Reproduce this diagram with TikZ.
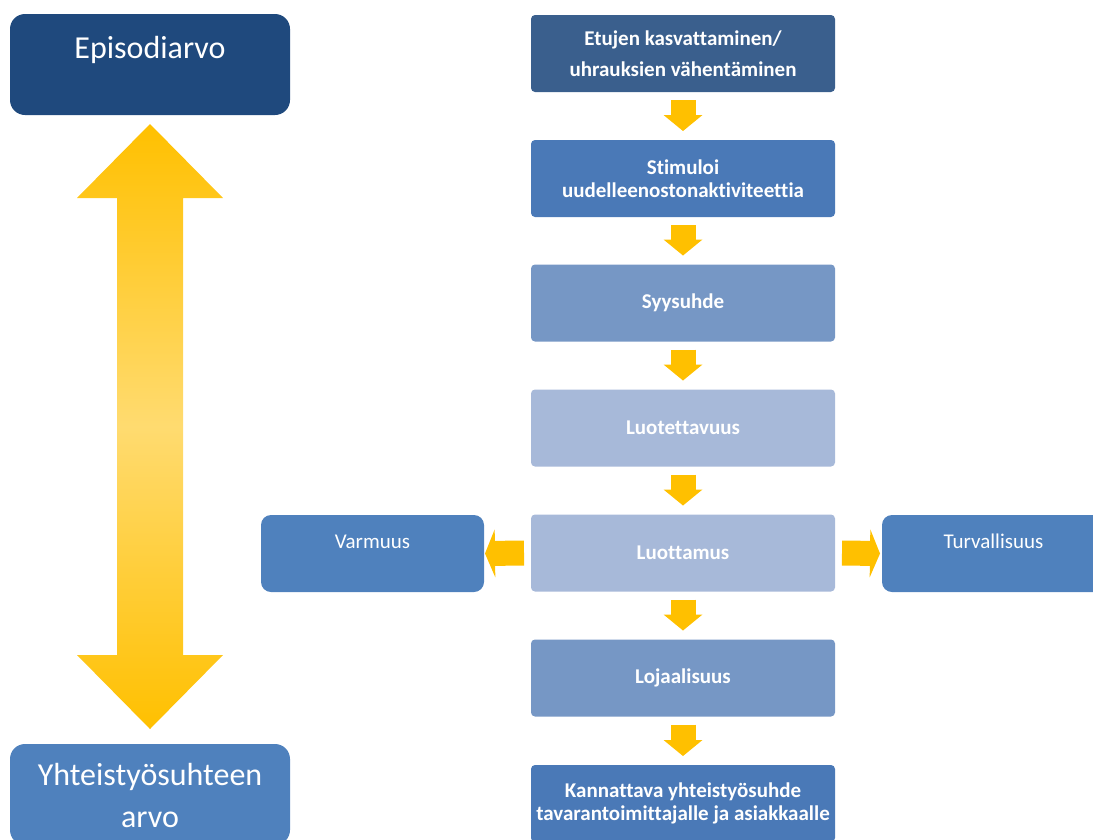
\documentclass[tikz,border=0pt]{standalone}
\usepackage{fontspec}
\setmainfont{Carlito}[Ligatures=NoCommon]
\usetikzlibrary{arrows.meta,calc}

\definecolor{valuedark}{HTML}{1F497D}
\definecolor{valuelight}{HTML}{4F81BD}
\definecolor{stageone}{HTML}{3A5F8D}
\definecolor{stagetwo}{HTML}{4A79B7}
\definecolor{stagethree}{HTML}{7697C5}
\definecolor{stagefour}{HTML}{A7B9D9}
\definecolor{arrowgold}{HTML}{FFC000}
\definecolor{arrowlight}{HTML}{FFDB70}

\tikzset{
    box/.style={rounded corners=4pt, align=center, text=white, inner sep=0pt, outer sep=0pt,
        minimum width=304pt, minimum height=77pt, font=\fontsize{21}{23}\selectfont\bfseries},
    stageA/.style={box, fill=stageone},
    stageB/.style={box, fill=stagetwo},
    stageC/.style={box, fill=stagethree},
    stageD/.style={box, fill=stagefour},
    value/.style={rounded corners=15pt, align=center, text=white, inner sep=0pt, outer sep=0pt,
        minimum width=280pt, text height=44pt, text depth=57pt, font=\fontsize{32}{42}\selectfont},
    aspect/.style={rounded corners=10pt, fill=valuelight, text=white, inner sep=0pt, outer sep=0pt,
        minimum width=223pt, text height=33pt, text depth=44pt, font=\fontsize{21}{25}\selectfont},
    link/.style={draw=arrowgold, line width=25pt, -{Triangle[width=39pt, length=16pt, line width=0pt]}},
    sidelink/.style={link, -{Triangle[width=48pt, length=10pt, line width=0pt]}},
    bothlink/.style={top color=arrowgold, bottom color=arrowgold, middle color=arrowlight}
}

\begin{document}
\begin{tikzpicture}[x=1pt, y=-1pt]
    \path[use as bounding box, clip] (0,0) rectangle (1093,839);
    \node[value, fill=valuedark] (episode) at (150,64.5) {Episodiarvo};
    \node[value, fill=valuelight, text height=83pt, text depth=18pt] (partnership) at (150,794.5)
        {Yhteistyösuhteen\\arvo};
    \node[stageA] (benefits) at (683,53.5) {Etujen kasvattaminen/\\[8pt]uhrauksien vähentäminen};
    \node[stageB] (stimulus) at (683,178.5) {Stimuloi\\uudelleenostonaktiviteettia};
    \node[stageC] (causality) at (683,303) {Syysuhde};
    \node[stageD] (reliability) at (683,428) {Luotettavuus};
    \node[stageD] (trust) at (683,553) {Luottamus};
    \node[stageC] (loyalty) at (683,678) {Lojaalisuus};
    \node[stageB] (profitable) at (683,803.5)
        {Kannattava yhteistyösuhde\\tavarantoimittajalle ja asiakkaalle};
    \node[aspect] (certainty) at (372.5,553.5) {Varmuus};
    \node[aspect] (security) at (993.5,553.5) {Turvallisuus};
    \coordinate (uptip) at ([yshift=-9pt]episode.south);
    \coordinate (downtip) at ([yshift=15pt]partnership.north);
    \shade[bothlink] (uptip) -- ++(73,74) -- ++(-40,0) -- ($(downtip)+(33,-74)$) -- ++(40,0)
        -- (downtip) -- ++(-73,-74) -- ++(40,0) -- ($(uptip)+(-33,74)$) -- ++(-40,0) -- cycle;
    \draw[link] ([yshift=-8pt]benefits.south) -- ([yshift=9pt]stimulus.north);
    \draw[link] ([yshift=-8pt]stimulus.south) -- ([yshift=9pt]causality.north);
    \draw[link] ([yshift=-8pt]causality.south) -- ([yshift=9pt]reliability.north);
    \draw[link] ([yshift=-8pt]reliability.south) -- ([yshift=9pt]trust.north);
    \draw[link] ([yshift=-8pt]trust.south) -- ([yshift=9pt]loyalty.north);
    \draw[link] ([yshift=-8pt]loyalty.south) -- ([yshift=9pt]profitable.north);
    \draw[sidelink] ([xshift=-7pt]trust.west) -- ([xshift=1pt]certainty.east);
    \draw[sidelink] ([xshift=7pt]trust.east) -- ([xshift=-2pt]security.west);
\end{tikzpicture}
\end{document}
